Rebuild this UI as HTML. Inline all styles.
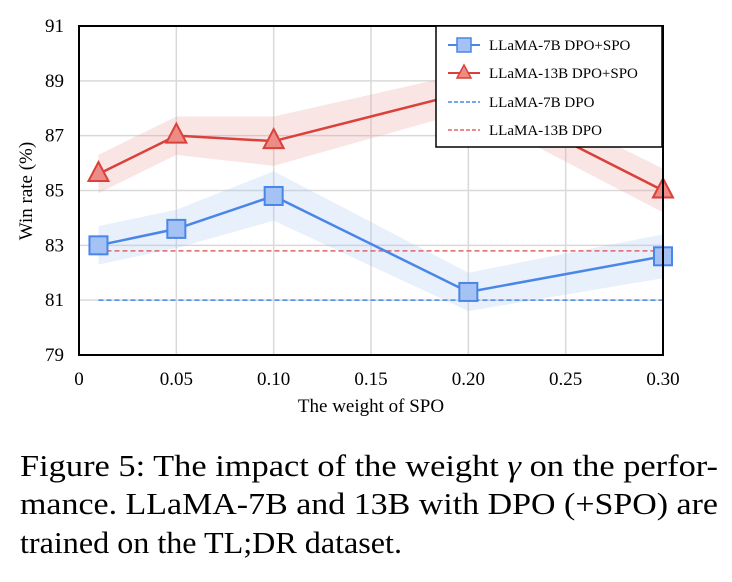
<!DOCTYPE html>
<html><head><meta charset="utf-8"><style>
html,body{margin:0;padding:0;background:#fff;width:732px;height:582px;overflow:hidden}
svg{display:block;font-family:"Liberation Serif",serif}
</style></head><body>
<svg id="chart" width="732" height="582" xmlns="http://www.w3.org/2000/svg">
<g id="grid"></g>
<g id="bands"></g>
<g id="series"></g>
<rect x="79" y="26" width="584" height="329" fill="none" stroke="#000" stroke-width="2"/>
<g id="ticks" font-size="19"></g>
<text x="0" y="0" font-size="19" text-anchor="middle" transform="translate(32,191) rotate(-90)">Win rate (%)</text>
<text x="371" y="412" font-size="19" text-anchor="middle">The weight of SPO</text>
<g>
<rect x="436" y="26" width="226" height="121" fill="#fff" stroke="#000" stroke-width="1.5"/>
<g><line x1="448" y1="45" x2="480" y2="45" stroke="#4a86e8" stroke-width="2"/><rect x="457" y="38" width="14" height="14" fill="#a4c2f4" stroke="#4a86e8" stroke-width="1.5"/><text x="489" y="50" font-size="15">LLaMA-7B DPO+SPO</text></g>
<g><line x1="448" y1="73" x2="480" y2="73" stroke="#d9413a" stroke-width="2"/><polygon points="464,65 471,78 457,78" fill="#ec8c86" stroke="#d9413a" stroke-width="1.5"/><text x="489" y="78" font-size="15">LLaMA-13B DPO+SPO</text></g>
<g><line x1="448" y1="102" x2="480" y2="102" stroke="#4a86e8" stroke-width="1.5" stroke-dasharray="4,2"/><text x="489" y="107" font-size="15">LLaMA-7B DPO</text></g>
<g><line x1="448" y1="130" x2="480" y2="130" stroke="#e06666" stroke-width="1.5" stroke-dasharray="4,2"/><text x="489" y="135" font-size="15">LLaMA-13B DPO</text></g>
</g>
<g font-size="31">
<text x="20" y="476" textLength="698" lengthAdjust="spacingAndGlyphs">Figure 5: The impact of the weight <tspan font-style="italic">γ</tspan> on the perfor-</text>
<text x="20" y="514" textLength="698" lengthAdjust="spacingAndGlyphs">mance.  LLaMA-7B and 13B with DPO (+SPO) are</text>
<text x="20" y="553" textLength="382" lengthAdjust="spacingAndGlyphs">trained on the TL;DR dataset.</text>
</g>
</svg>
<script>
const xValues = [0.01, 0.05, 0.10, 0.20, 0.30];
const llama7bSpo = [83.0, 83.6, 84.8, 81.3, 82.6];
const llama13bSpo = [85.6, 87.0, 86.8, 88.6, 85.0];
const llama7bDpo = 81.0;
const llama13bDpo = 82.8;
const bandWidth = [0.7, 0.7, 0.9, 0.7, 0.8];
const xTicks = [0, 0.05, 0.10, 0.15, 0.20, 0.25, 0.30];
const xTickLabels = ["0", "0.05", "0.10", "0.15", "0.20", "0.25", "0.30"];
const yTicks = [79, 81, 83, 85, 87, 89, 91];

const NS = "http://www.w3.org/2000/svg";
const X = v => 79 + v / 0.30 * 584;
const Y = v => 355 - (v - 79) / 12 * 329;
function mk(tag, attrs, parent) { const e = document.createElementNS(NS, tag); for (const k in attrs) e.setAttribute(k, attrs[k]); parent.appendChild(e); return e; }
const grid = document.getElementById('grid'), ticks = document.getElementById('ticks');
xTicks.forEach((t, i) => {
  const l = mk('line', {x1: X(t), x2: X(t), y1: 26, y2: 355, stroke: '#d9d9d9', 'stroke-width': 1.5}, grid);
  
  
  const tx = mk('text', {x: X(t), y: 385, 'text-anchor': 'middle'}, ticks);
  tx.textContent = xTickLabels[i];
  
  
});
yTicks.forEach(t => {
  const l = mk('line', {x1: 79, x2: 663, y1: Y(t), y2: Y(t), stroke: '#d9d9d9', 'stroke-width': 1.5}, grid);
  
  
  const tx = mk('text', {x: 64, y: Y(t) + 6, 'text-anchor': 'end'}, ticks);
  tx.textContent = String(t);
  
  
});
const bands = document.getElementById('bands'), series = document.getElementById('series');
function band(vals, fill, name) {
  const up = xValues.map((x, i) => X(x) + ',' + Y(vals[i] + bandWidth[i]));
  const dn = xValues.map((x, i) => X(x) + ',' + Y(vals[i] - bandWidth[i])).reverse();
  const p = mk('polygon', {points: up.concat(dn).join(' '), fill: fill}, bands);
  
  
}
band(llama7bSpo, 'rgba(164,194,244,0.25)', 'band-7b');
band(llama13bSpo, 'rgba(234,153,153,0.25)', 'band-13b');
[[llama7bDpo, '#4a86e8', 'baseline-7b-dpo'], [llama13bDpo, '#e06666', 'baseline-13b-dpo']].forEach(([v, c, n]) => {
  const l = mk('line', {x1: X(xValues[0]), x2: X(xValues[xValues.length - 1]), y1: Y(v), y2: Y(v), stroke: c, 'stroke-width': 1.5, 'stroke-dasharray': '5,3'}, series);
  
  
});
function line(vals, c, name) {
  const p = mk('polyline', {points: xValues.map((x, i) => X(x) + ',' + Y(vals[i])).join(' '), fill: 'none', stroke: c, 'stroke-width': 2.5}, series);
  
  
}
line(llama7bSpo, '#4a86e8', 'line-7b-spo');
line(llama13bSpo, '#d9413a', 'line-13b-spo');
xValues.forEach((x, i) => {
  const r = mk('rect', {x: X(x) - 9, y: Y(llama7bSpo[i]) - 9, width: 18, height: 18, fill: '#a4c2f4', stroke: '#4a86e8', 'stroke-width': 2}, series);
  
  
  const cx = X(x), cy = Y(llama13bSpo[i]);
  const t = mk('polygon', {points: `${cx},${cy - 12} ${cx + 10},${cy + 7} ${cx - 10},${cy + 7}`, fill: '#ec8c86', stroke: '#d9413a', 'stroke-width': 2}, series);
  
  
});
</script>
</body></html>
